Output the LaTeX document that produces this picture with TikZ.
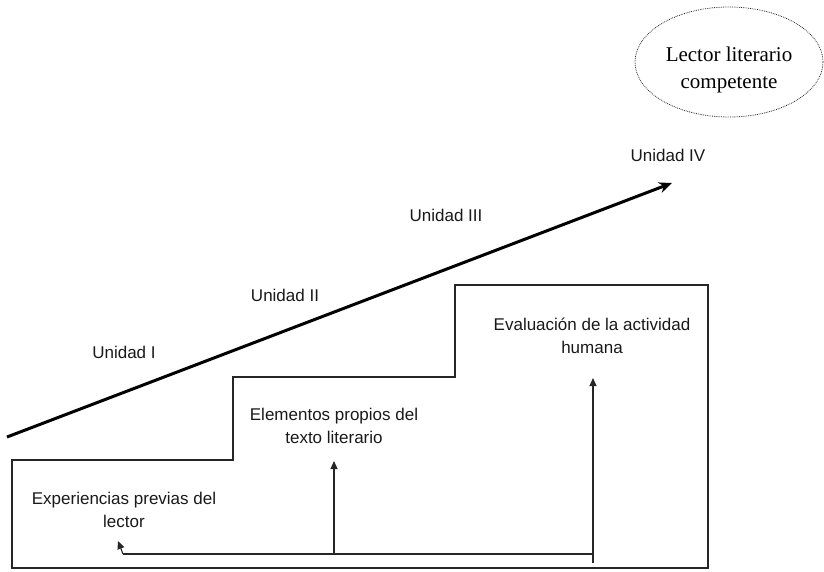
\documentclass[tikz,border=0pt]{standalone}
\usepackage{fontspec}
\setmainfont{Liberation Sans}
\newfontfamily\goalfont{Liberation Serif}
\usetikzlibrary{arrows.meta,shapes.geometric}
\begin{document}
\begin{tikzpicture}[x=1pt,y=-1pt,
  lbl/.style={font=\fontsize{17}{23}\selectfont, align=center, inner sep=0pt, text=black!90},
  outline/.style={line width=1.1pt, draw=black!85},
  thinarrow/.style={line width=1.1pt, draw=black!85, -{Triangle[length=8pt,width=7pt]}},
  bigarrow/.style={line width=3pt, -{Stealth[length=13pt,width=11pt]}}]
\useasboundingbox (0,0) rectangle (824,572);
% staircase outline
\draw[outline] (12,460) -- (233,460) -- (233,377) -- (455,377) -- (455,285)
  -- (708,285) -- (708,568) -- (12,568) -- cycle;
% big arrow
\coordinate (bs) at (7,437);
\coordinate (be) at (672,183);
\draw[bigarrow] (bs) -- (be);
% unit labels
\node[lbl] (u1) at (124,352) {Unidad I};
\node[lbl] (u2) at (285,295) {Unidad II};
\node[lbl] (u3) at (446,215) {Unidad III};
\node[lbl] (u4) at (668,155) {Unidad IV};
% step labels
\node[lbl] (exp) at (124,510) {Experiencias previas del\\lector};
\node[lbl] (ele) at (334,426) {Elementos propios del\\texto literario};
\node[lbl] (eva) at (592,336) {Evaluación de la actividad\\humana};
% connectors
\coordinate (jr) at (593,554);
\coordinate (jm) at (334,554);
\coordinate (jl) at (123,554);
\coordinate (rb) at (593,563);
\draw[thinarrow] (rb) -- (593,378);
\draw[outline] (jr) -- (jm) -- (jl);
\draw[thinarrow] (jm) -- (334,461);
\draw[thinarrow] (jl) -- (118,541);
% goal ellipse
\node[draw=black!85, densely dotted, line width=0.8pt, ellipse, minimum width=188pt, minimum height=110pt, inner sep=0pt] (goal) at (729,62) {};
\node[font=\goalfont\fontsize{21}{27}\selectfont, align=center, inner sep=0pt] (goaltext) at (729,70) {Lector literario\\competente};
\end{tikzpicture}
\end{document}
